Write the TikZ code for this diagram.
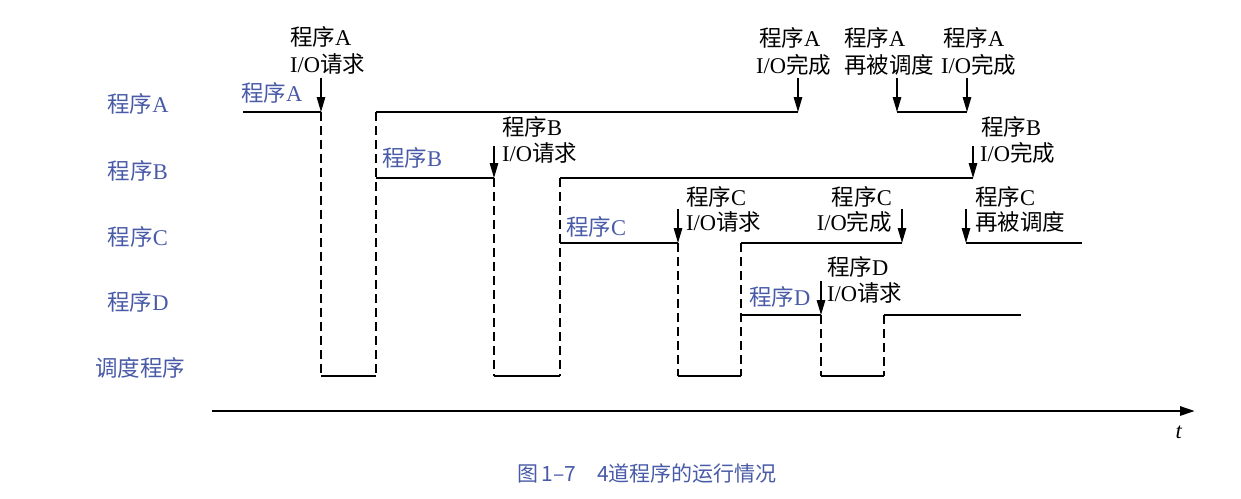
\documentclass[tikz,border=0pt]{standalone}
\usepackage{fontspec}
\setmainfont{Liberation Serif}
\newfontfamily\cjk{Noto Sans CJK SC}
\usetikzlibrary{arrows.meta}
\definecolor{progblue}{RGB}{72,90,168}
\newcommand\zh[1]{{\cjk #1}}
\tikzset{
  lvl/.style={line width=2.8pt},
  sched/.style={line width=2.2pt},
  dsh/.style={line width=2.3pt,dash pattern=on 9pt off 5pt},
  evt/.style={line width=1.3pt,-{Triangle[length=15pt,width=8.5pt]}},
  txt/.style={inner sep=0pt,font=\fontsize{22.5}{27}\selectfont},
  lbl/.style={txt,text=progblue},
}
\begin{document}
\begin{tikzpicture}[x=1pt,y=-1pt]
\useasboundingbox (0,0) rectangle (1241,498);
% left labels
\node[lbl] (la) at (138,104) {\zh{程序}A};
\node[lbl] (lb) at (138,171) {\zh{程序}B};
\node[lbl] (lc) at (138,237) {\zh{程序}C};
\node[lbl] (ld) at (138,302) {\zh{程序}D};
\node[lbl] (ls) at (140,368) {\zh{调度程序}};
% levels
\draw[lvl] (243,112)--(321,112) (376,112)--(798,112) (897,112)--(967,112);
\draw[lvl] (376,178)--(494,178) (560,178)--(973,178);
\draw[lvl] (560,243)--(678,243) (741,243)--(902,243) (966,243)--(1082,243);
\draw[lvl] (741,315)--(821,315) (884,315)--(1021,315);
\draw[sched] (321,376)--(376,376) (494,376)--(560,376) (678,376)--(741,376) (821,376)--(884,376);
% dashed switches
\draw[dsh] (321,112)--(321,376);
\draw[dsh] (376,112)--(376,376);
\draw[dsh] (494,178)--(494,376);
\draw[dsh] (560,178)--(560,376);
\draw[dsh] (678,243)--(678,376);
\draw[dsh] (741,243)--(741,376);
\draw[dsh] (821,315)--(821,376);
\draw[dsh] (884,315)--(884,376);
% inline labels
\node[lbl,anchor=west] (ia) at (241,93) {\zh{程序}A};
\node[lbl,anchor=west] (ib) at (382,158) {\zh{程序}B};
\node[lbl,anchor=west] (ic) at (566,227) {\zh{程序}C};
\node[lbl,anchor=west] (id) at (749,297) {\zh{程序}D};
% event arrows
\foreach \x in {321,798,897,967} \draw[evt] (\x,78)--(\x,112);
\foreach \x in {494,973} \draw[evt] (\x,146)--(\x,178);
\foreach \x in {678,902,966} \draw[evt] (\x,209)--(\x,243);
\draw[evt] (821,281)--(821,315);
% event texts
\node[txt,anchor=west] (e1a) at (290,37) {\zh{程序}A};
\node[txt,anchor=west] (e1b) at (290,64) {I/O\zh{请求}};
\node[txt,anchor=west] (e2a) at (502,127) {\zh{程序}B};
\node[txt,anchor=west] (e2b) at (502,153) {I/O\zh{请求}};
\node[txt,anchor=west] (e3a) at (686,197) {\zh{程序}C};
\node[txt,anchor=west] (e3b) at (686,222) {I/O\zh{请求}};
\node[txt,anchor=east] (e4a) at (892,197) {\zh{程序}C};
\node[txt,anchor=east] (e4b) at (892,222) {I/O\zh{完成}};
\node[txt,anchor=west] (e5a) at (975,197) {\zh{程序}C};
\node[txt,anchor=west] (e5b) at (975,222) {\zh{再被调度}};
\node[txt,anchor=west] (e6a) at (827,267) {\zh{程序}D};
\node[txt,anchor=west] (e6b) at (827,293) {I/O\zh{请求}};
\node[txt,anchor=west] (e7a) at (759,38) {\zh{程序}A};
\node[txt,anchor=west] (e7b) at (756,65) {I/O\zh{完成}};
\node[txt,anchor=west] (e8a) at (844,38) {\zh{程序}A};
\node[txt,anchor=west] (e8b) at (844,65) {\zh{再被调度}};
\node[txt,anchor=west] (e9a) at (943,38) {\zh{程序}A};
\node[txt,anchor=west] (e9b) at (941,65) {I/O\zh{完成}};
\node[txt,anchor=west] (e10a) at (981,127) {\zh{程序}B};
\node[txt,anchor=west] (e10b) at (980,153) {I/O\zh{完成}};
% time axis
\coordinate (t0) at (212,411);
\coordinate (t1) at (1195,411);
\draw[line width=2.8pt,-{Triangle[length=15pt,width=9pt]}] (t0)--(t1);
\node[txt] (tl) at (1179,432) {\textit{t}};
% caption
\node[inner sep=0pt,text=progblue,font=\cjk\fontsize{21}{25}\selectfont] (cap) at (647,474) {图\,1–7\hspace{1em}4道程序的运行情况};
\end{tikzpicture}
\end{document}
